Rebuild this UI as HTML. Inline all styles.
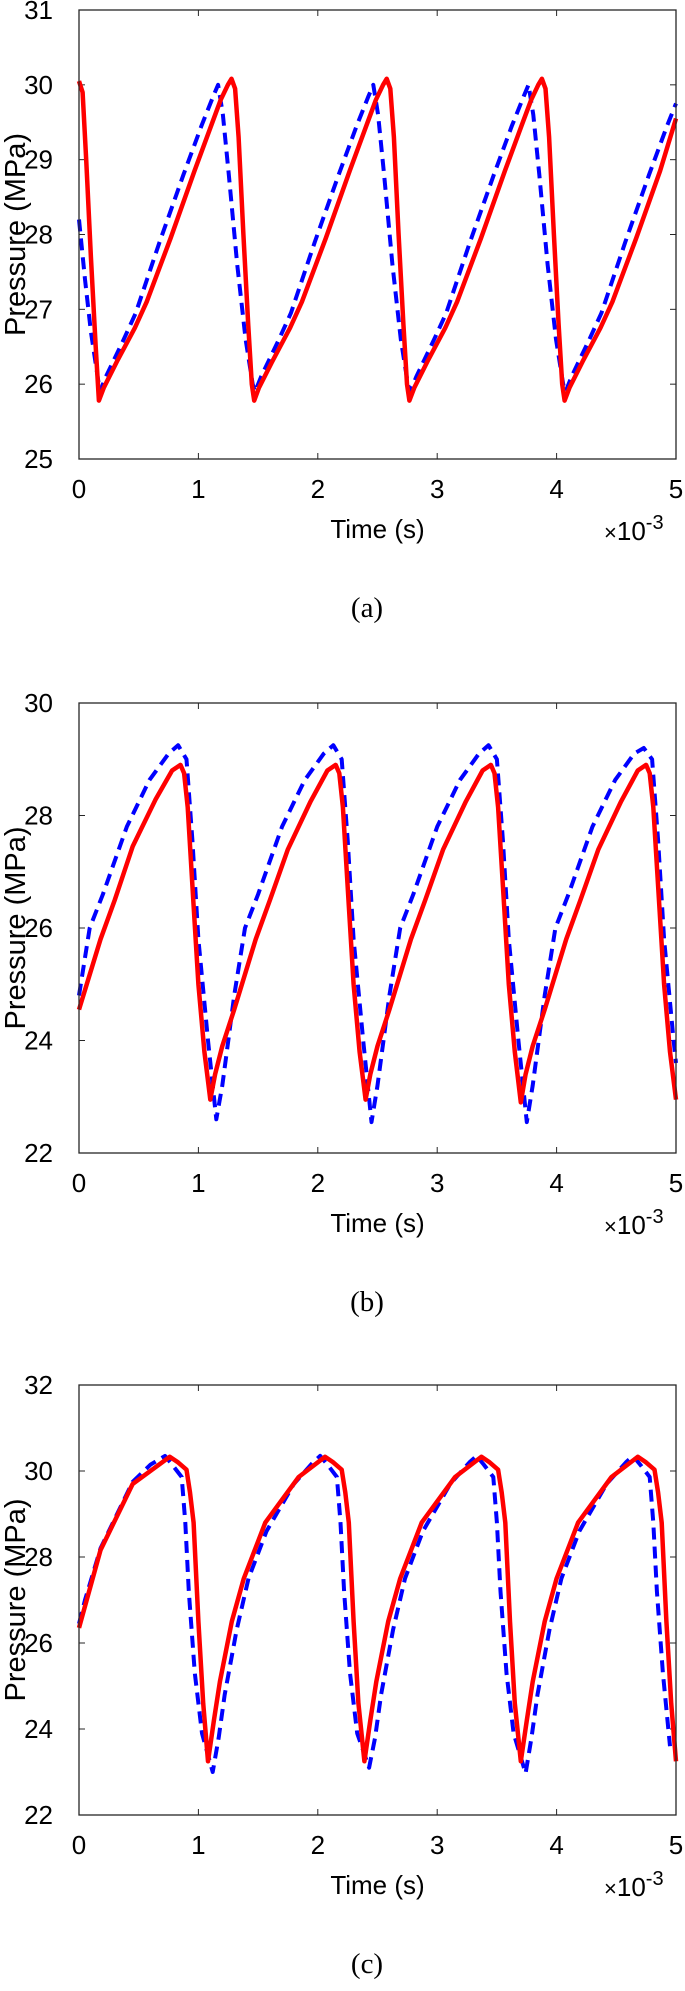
<!DOCTYPE html>
<html><head><meta charset="utf-8"><style>
html,body{margin:0;padding:0;background:#fff;}
svg{display:block;}
.tk{font-family:"Liberation Sans",sans-serif;font-size:26px;fill:#000;}
.yt{font-family:"Liberation Sans",sans-serif;font-size:29px;fill:#000;}
.cap{font-family:"Liberation Serif",serif;font-size:29px;fill:#000;}
</style></head><body>
<svg id="fig" width="685" height="1991" viewBox="0 0 685 1991" xmlns="http://www.w3.org/2000/svg"></svg>
<script>
// ---- Data (time in ms, pressure in MPa) ----
const xTicks=[0,1,2,3,4,5];
const yTicksA=[25,26,27,28,29,30,31];
const yTicksB=[22,24,26,28,30];
const yTicksC=[22,24,26,28,30,32];

const redA_t=[0,0.03,0.06,0.1,0.14,
0.167,0.207,0.317,0.467,0.567,0.767,0.967,1.117,1.187,1.247,1.277,1.307,1.337,1.377,1.417,1.447,
1.467,1.507,1.617,1.767,1.867,2.067,2.267,2.417,2.487,2.547,2.577,2.607,2.637,2.677,2.717,2.747,
2.767,2.807,2.917,3.067,3.167,3.367,3.567,3.717,3.787,3.847,3.877,3.907,3.937,3.977,4.017,4.047,
4.067,4.107,4.217,4.367,4.467,4.667,4.867,5.0];
const redA_p=[30.05,29.9,29.0,27.7,26.5,
25.78,25.95,26.3,26.75,27.1,27.95,28.85,29.5,29.8,30.0,30.08,29.95,29.3,28.0,26.8,26.0,
25.78,25.95,26.3,26.75,27.1,27.95,28.85,29.5,29.8,30.0,30.08,29.95,29.3,28.0,26.8,26.0,
25.78,25.95,26.3,26.75,27.1,27.95,28.85,29.5,29.8,30.0,30.08,29.95,29.3,28.0,26.8,26.0,
25.78,25.95,26.3,26.75,27.1,27.95,28.85,29.55];
const blueA_t=[0,0.05,0.1,
0.175,0.225,0.375,0.475,0.675,0.875,1.025,1.125,1.165,1.205,1.255,1.325,1.395,1.455,
1.475,1.525,1.675,1.775,1.975,2.175,2.325,2.425,2.465,2.505,2.555,2.625,2.695,2.755,
2.775,2.825,2.975,3.075,3.275,3.475,3.625,3.725,3.765,3.805,3.855,3.925,3.995,4.055,
4.075,4.125,4.275,4.375,4.575,4.775,4.925,5.0];
const blueA_p=[28.2,27.4,26.7,
25.9,26.1,26.6,26.95,27.9,28.8,29.45,29.85,30.0,29.6,28.8,27.6,26.6,26.0,
25.9,26.1,26.6,26.95,27.9,28.8,29.45,29.85,30.0,29.6,28.8,27.6,26.6,26.0,
25.9,26.1,26.6,26.95,27.9,28.8,29.45,29.85,30.0,29.6,28.8,27.6,26.6,26.0,
25.9,26.1,26.6,26.95,27.9,28.8,29.45,29.75];

const redB_t=[0,0.18,0.3,0.45,0.64,0.78,0.85,0.88,0.91,0.96,1.0,1.05,
1.1,1.14,1.2,1.3,1.48,1.6,1.75,1.94,2.08,2.15,2.18,2.21,2.26,2.3,2.35,
2.4,2.44,2.5,2.6,2.78,2.9,3.05,3.24,3.38,3.45,3.48,3.51,3.56,3.6,3.65,
3.7,3.74,3.8,3.9,4.08,4.2,4.35,4.54,4.68,4.75,4.78,4.81,4.86,4.9,4.95,5.0];
const redB_p=[24.55,25.8,26.5,27.45,28.28,28.8,28.9,28.75,28.15,26.4,25.0,23.8,
22.95,23.4,23.9,24.55,25.8,26.5,27.4,28.25,28.8,28.9,28.75,28.15,26.4,25.0,23.8,
22.95,23.4,23.9,24.55,25.8,26.5,27.4,28.25,28.8,28.9,28.75,28.15,26.4,25.0,23.8,
22.9,23.4,23.9,24.55,25.8,26.5,27.4,28.25,28.8,28.9,28.75,28.15,26.4,25.0,23.8,22.95];
const blueB_t=[0,0.09,0.2,0.4,0.59,0.75,0.83,0.9,0.95,1.0,1.08,
1.15,1.2,1.25,1.3,1.39,1.5,1.7,1.89,2.05,2.13,2.2,2.25,2.3,2.38,
2.45,2.5,2.55,2.6,2.69,2.8,3.0,3.19,3.35,3.43,3.5,3.55,3.6,3.68,
3.75,3.8,3.85,3.9,3.99,4.1,4.3,4.49,4.65,4.73,4.8,4.85,4.9,4.98,5.0];
const blueB_p=[24.8,26.0,26.6,27.8,28.63,29.1,29.25,29.0,27.56,25.8,24.0,
22.6,23.2,24.0,24.8,26.0,26.6,27.8,28.63,29.1,29.25,29.0,27.56,25.8,24.0,
22.55,23.2,24.0,24.8,26.0,26.6,27.8,28.63,29.1,29.25,29.0,27.56,25.8,24.0,
22.55,23.2,24.0,24.8,26.0,26.6,27.8,28.63,29.1,29.2,29.0,27.56,25.8,24.0,23.6];

const redC_t=[0,0.18,0.45,0.76,0.83,0.9,0.93,0.96,1.0,1.04,
1.08,1.13,1.18,1.28,1.38,1.56,1.84,2.06,2.13,2.2,2.23,2.26,2.3,2.34,
2.39,2.44,2.49,2.59,2.69,2.87,3.15,3.37,3.44,3.51,3.54,3.57,3.61,3.65,
3.7,3.75,3.8,3.9,4.0,4.18,4.46,4.68,4.75,4.82,4.85,4.88,4.92,4.96,5.0];
const redC_p=[26.35,28.16,29.7,30.33,30.2,30.03,29.5,28.8,26.5,24.6,
23.25,24.2,25.1,26.5,27.5,28.8,29.86,30.33,30.2,30.03,29.5,28.8,26.5,24.6,
23.25,24.2,25.1,26.5,27.5,28.8,29.86,30.33,30.2,30.03,29.5,28.8,26.5,24.6,
23.25,24.2,25.1,26.5,27.5,28.8,29.86,30.33,30.2,30.03,29.5,28.8,26.5,24.6,23.25];
const blueC_t=[0,0.05,0.18,0.45,0.6,0.72,0.78,0.86,0.89,0.92,0.97,1.03,
1.12,1.17,1.22,1.32,1.42,1.57,1.8,1.96,2.02,2.08,2.16,2.19,2.22,2.27,2.33,
2.43,2.48,2.53,2.63,2.73,2.88,3.11,3.27,3.33,3.39,3.47,3.5,3.53,3.58,3.64,
3.74,3.79,3.84,3.94,4.04,4.19,4.42,4.58,4.64,4.7,4.78,4.81,4.84,4.89,4.95,5.0];
const blueC_p=[26.45,27.0,28.2,29.75,30.15,30.35,30.15,29.86,28.8,27.2,25.3,23.9,
23.0,23.8,24.8,26.3,27.5,28.6,29.7,30.2,30.35,30.15,29.86,28.8,27.2,25.3,23.9,
23.1,23.8,24.8,26.3,27.5,28.6,29.7,30.2,30.35,30.15,29.86,28.8,27.2,25.3,23.9,
22.97,23.8,24.8,26.3,27.5,28.6,29.7,30.2,30.35,30.15,29.86,28.8,27.2,25.3,23.6];

const NS="http://www.w3.org/2000/svg";
const svg=document.getElementById('fig');
function mk(tag,attrs,parent){const e=document.createElementNS(NS,tag);for(const k in attrs)e.setAttribute(k,attrs[k]);(parent||svg).appendChild(e);return e;}

function panel(id,top,bottom,yMin,yMax,yTicks,red_t,red_p,blue_t,blue_p,caption){
  const L=79,R=676;
  const g=mk('g',{});
  
  
  const xs=v=>L+(v-0)/(5-0)*(R-L);
  const ys=v=>bottom-(v-yMin)/(yMax-yMin)*(bottom-top);
  xTicks.forEach(v=>{
    const x=xs(v);
    const t1=mk('line',{x1:x,x2:x,y1:bottom,y2:bottom-6,stroke:'#262626','stroke-width':1},g);
    
    
    mk('line',{x1:x,x2:x,y1:top,y2:top+6,stroke:'#262626','stroke-width':1},g);
    const tl=mk('text',{x:x,y:bottom+39,'text-anchor':'middle',class:'tk'},g);
    tl.textContent=v;
    
    
  });
  yTicks.forEach(v=>{
    const y=ys(v);
    mk('line',{x1:L,x2:L+6,y1:y,y2:y,stroke:'#262626','stroke-width':1},g);
    mk('line',{x1:R,x2:R-6,y1:y,y2:y,stroke:'#262626','stroke-width':1},g);
    const tl=mk('text',{x:L-26,y:y+9,'text-anchor':'end',class:'tk'},g);
    tl.textContent=v;
    
    
  });
  function line(ts,ps,color,dash,w,name){
    let d='';
    for(let i=0;i<ts.length;i++){d+=(i?'L':'M')+xs(ts[i]).toFixed(1)+','+ys(ps[i]).toFixed(1);}
    const a={d:d,fill:'none',stroke:color,'stroke-width':w,'stroke-linejoin':'round'};
    if(dash)a['stroke-dasharray']=dash;
    const p=mk('path',a,g);
    
    
  }
  line(blue_t,blue_p,'#0000ff','12 7',4,'series-blue-dashed');
  line(red_t,red_p,'#ff0000',null,4.5,'series-red-solid');
  const box=mk('rect',{x:L,y:top,width:R-L,height:bottom-top,fill:'none',stroke:'#262626','stroke-width':1.3},g);
  
  
  const yl=mk('text',{x:0,y:0,'text-anchor':'middle',class:'yt',transform:'translate(25,'+((top+bottom)/2)+') rotate(-90)'},g);
  yl.textContent='Pressure (MPa)';
  
  
  const xl=mk('text',{x:(L+R)/2,y:bottom+79,'text-anchor':'middle',class:'tk'},g);
  xl.textContent='Time (s)';
  
  
  const ex=mk('text',{x:604,y:bottom+81,class:'tk'},g);
  ex.innerHTML='<tspan font-size="22">\u00d7</tspan>10<tspan dy="-11" font-size="20">-3</tspan>';
  
  
  const cp=mk('text',{x:367,y:bottom+158,'text-anchor':'middle',class:'cap'},g);
  cp.textContent=caption;
  
  
}
panel('a',10,459,25,31,yTicksA,redA_t,redA_p,blueA_t,blueA_p,'(a)');
panel('b',703,1153,22,30,yTicksB,redB_t,redB_p,blueB_t,blueB_p,'(b)');
panel('c',1385,1815,22,32,yTicksC,redC_t,redC_p,blueC_t,blueC_p,'(c)');
</script>
</body></html>
